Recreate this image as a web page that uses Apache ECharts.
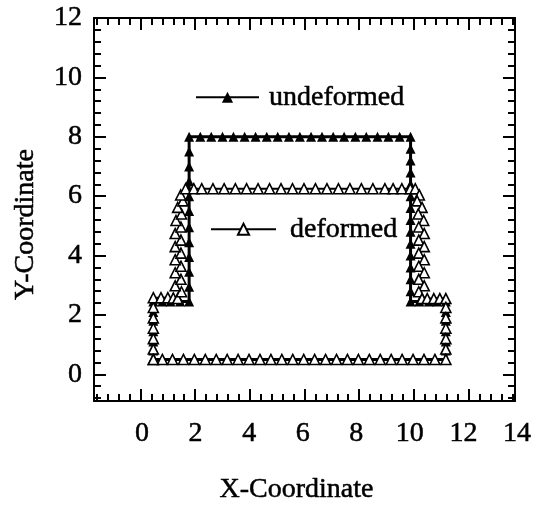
<!DOCTYPE html>
<html>
<head>
<meta charset="utf-8">
<script src="https://cdn.jsdelivr.net/npm/echarts@6/dist/echarts.min.js"></script>
<style>
  html, body { margin: 0; padding: 0; background: #fff; }
  #chart { width: 535px; height: 511px; }
</style>
</head>
<body>
<div id="chart"></div>
<script>
// Boundary nodes of the block before loading (x, y)
const undeformed = [
  [0.47,0.5],[0.47,0.8],[0.47,1.1],[0.47,1.45],[0.47,1.8],[0.47,2.1],[0.47,2.45],
  [0.8,2.45],[1.1,2.45],[1.45,2.45],[1.78,2.45],
  [1.78,2.95],[1.78,3.45],[1.78,3.95],[1.78,4.45],[1.78,4.95],[1.78,5.5],[1.78,6.0],[1.78,6.5],[1.78,7.0],[1.78,7.5],[1.78,8.0],
  [2.19,8.0],[2.59,8.0],[3.0,8.0],[3.4,8.0],[3.81,8.0],[4.21,8.0],[4.62,8.0],[5.02,8.0],[5.43,8.0],[5.83,8.0],
  [6.24,8.0],[6.64,8.0],[7.05,8.0],[7.45,8.0],[7.86,8.0],[8.26,8.0],[8.67,8.0],[9.07,8.0],[9.48,8.0],[9.88,8.0],
  [9.88,7.6],[9.88,7.2],[9.88,6.8],[9.88,6.4],[9.88,6.0],[9.88,5.6],[9.88,5.2],[9.88,4.8],[9.88,4.4],[9.88,4.0],
  [9.88,3.6],[9.88,3.2],[9.88,2.8],[9.88,2.45],
  [10.2,2.45],[10.55,2.45],[10.85,2.45],[11.17,2.45],
  [11.17,2.1],[11.17,1.8],[11.17,1.45],[11.17,1.1],[11.17,0.8],[11.17,0.5],
  [10.77,0.5],[10.37,0.5],[9.97,0.5],[9.57,0.5],[9.17,0.5],[8.77,0.5],[8.37,0.5],[7.97,0.5],[7.57,0.5],
  [7.17,0.5],[6.77,0.5],[6.37,0.5],[5.97,0.5],[5.57,0.5],[5.17,0.5],[4.77,0.5],[4.37,0.5],[3.97,0.5],
  [3.57,0.5],[3.17,0.5],[2.77,0.5],[2.37,0.5],[1.97,0.5],[1.57,0.5],[1.17,0.5],[0.8,0.5],[0.47,0.5]
];

// Boundary nodes of the block after loading (x, y)
const deformed = [
  [0.47,0.5],[0.47,0.85],[0.47,1.2],[0.47,1.55],[0.47,1.9],[0.47,2.25],[0.47,2.58],
  [0.75,2.58],[1.0,2.58],[1.2,2.57],
  [1.36,2.55],[1.5,2.78],[1.27,2.98],[1.48,3.2],[1.27,3.42],[1.48,3.64],[1.27,3.86],[1.48,4.08],[1.27,4.3],
  [1.48,4.52],[1.27,4.74],[1.48,4.96],[1.3,5.18],[1.5,5.4],[1.36,5.62],[1.55,5.84],[1.47,6.04],[1.65,6.25],
  [1.95,6.25],[2.24,6.25],[2.65,6.25],[3.06,6.25],[3.47,6.25],[3.88,6.25],[4.3,6.25],[4.72,6.25],[5.14,6.25],
  [5.56,6.25],[5.98,6.25],[6.4,6.25],[6.82,6.25],[7.24,6.25],[7.66,6.25],[8.08,6.25],[8.5,6.25],[8.94,6.25],
  [9.24,6.25],[9.56,6.25],[9.87,6.25],[10.05,6.25],
  [10.2,6.04],[10.12,5.84],[10.3,5.62],[10.16,5.4],[10.36,5.18],[10.18,4.96],[10.38,4.74],[10.18,4.52],
  [10.38,4.3],[10.18,4.08],[10.38,3.86],[10.18,3.64],[10.38,3.42],[10.18,3.2],[10.38,2.98],[10.18,2.78],[10.3,2.55],
  [10.49,2.55],[10.73,2.55],[10.95,2.55],[11.17,2.55],
  [11.17,2.25],[11.17,1.9],[11.17,1.55],[11.17,1.2],[11.17,0.85],[11.17,0.5],
  [10.77,0.5],[10.37,0.5],[9.97,0.5],[9.57,0.5],[9.17,0.5],[8.77,0.5],[8.37,0.5],[7.97,0.5],[7.57,0.5],
  [7.17,0.5],[6.77,0.5],[6.37,0.5],[5.97,0.5],[5.57,0.5],[5.17,0.5],[4.77,0.5],[4.37,0.5],[3.97,0.5],
  [3.57,0.5],[3.17,0.5],[2.77,0.5],[2.37,0.5],[1.97,0.5],[1.57,0.5],[1.17,0.5],[0.8,0.5],[0.47,0.5]
];

const xTickLabels = [0, 2, 4, 6, 8, 10, 12, 14];
const yTickLabels = [0, 2, 4, 6, 8, 10, 12];
const xMajor = [0, 2, 4, 6, 8, 10, 12];
const yMajor = [0, 2, 4, 6, 8, 10, 12];

const X_MIN = -1.7, X_MAX = 13.7;
const Y_MIN = -0.9, Y_MAX = 12;

// minor tick positions every 0.4, skipping the major (multiple of 2) ones
function minorTicks(lo, hi) {
  const out = [];
  for (let k = Math.ceil(lo / 0.4 - 1e-9); k * 0.4 <= hi + 1e-9; k++) {
    if (k % 5 !== 0) out.push(+(k * 0.4).toFixed(2));
  }
  return out;
}

const FONT = 'Liberation Serif';
const BLACK = '#000';
const textBase = { fontFamily: FONT, fontSize: 28, color: BLACK,
                   textBorderColor: BLACK, textBorderWidth: 0.5 };

function frameAxis(gridIndex, position, min, max, ticks, tickLen, showLine, extra) {
  return Object.assign({
    type: 'value',
    gridIndex: gridIndex,
    position: position,
    min: min,
    max: max,
    axisLine: { show: showLine, onZero: false, lineStyle: { color: BLACK, width: 2 } },
    axisTick: { show: true, inside: true, length: tickLen, customValues: ticks,
                lineStyle: { color: BLACK, width: 2 } },
    axisLabel: { show: false },
    splitLine: { show: false },
    minorTick: { show: false }
  }, extra || {});
}

const xMinor = minorTicks(X_MIN, X_MAX);
const yMinor = minorTicks(Y_MIN, Y_MAX);

const chart = echarts.init(document.getElementById('chart'), null, { renderer: 'canvas' });

chart.setOption({
  animation: false,
  backgroundColor: '#fff',
  grid: [
    { left: 94, right: 20, top: 18, bottom: 110 },
    { left: 142, right: 18, top: 18, bottom: 110 }
  ],
  xAxis: [
    frameAxis(0, 'bottom', X_MIN, X_MAX, xMajor, 12, true, {
      name: 'X-Coordinate',
      nameLocation: 'middle',
      nameGap: 75,
      nameTextStyle: Object.assign({}, textBase, { padding: [0, 16, 0, 0] })
    }),
    frameAxis(0, 'bottom', X_MIN, X_MAX, xMinor, 7, false),
    frameAxis(0, 'top', X_MIN, X_MAX, xMajor, 12, true),
    frameAxis(0, 'top', X_MIN, X_MAX, xMinor, 7, false),
    {
      type: 'value', gridIndex: 1, position: 'bottom',
      min: xTickLabels[0], max: xTickLabels[xTickLabels.length - 1],
      axisLine: { show: false, onZero: false },
      axisTick: { show: false },
      splitLine: { show: false },
      axisLabel: Object.assign({ show: true, customValues: xTickLabels, margin: 19 }, textBase)
    }
  ],
  yAxis: [
    frameAxis(0, 'left', Y_MIN, Y_MAX, yMajor, 12, true, {
      name: 'Y-Coordinate',
      nameLocation: 'middle',
      nameGap: 54,
      nameTextStyle: Object.assign({}, textBase, { padding: [0, 30, 0, 0] }),
      axisLabel: Object.assign({ show: true, customValues: yTickLabels, margin: 12,
                                 padding: [4, 0, 0, 0] }, textBase)
    }),
    frameAxis(0, 'left', Y_MIN, Y_MAX, yMinor, 7, false),
    frameAxis(0, 'right', Y_MIN, Y_MAX, yMajor, 12, true),
    frameAxis(0, 'right', Y_MIN, Y_MAX, yMinor, 7, false),
    { type: 'value', gridIndex: 1, show: false, min: 0, max: 1 }
  ],
  legend: [
    {
      data: ['undeformed'], left: 195, top: 83, padding: 0,
      itemWidth: 63, itemHeight: 14, selectedMode: false,
      textStyle: Object.assign({}, textBase, { padding: [0, 0, 0, 5] })
    },
    {
      data: ['deformed'], left: 210, top: 215, padding: 0,
      itemWidth: 65, itemHeight: 14, selectedMode: false,
      textStyle: Object.assign({}, textBase, { padding: [0, 0, 0, 9] })
    }
  ],
  series: [
    {
      name: 'undeformed', type: 'line', xAxisIndex: 0, yAxisIndex: 0,
      data: undeformed, symbol: 'triangle', symbolSize: 10, showAllSymbol: true,
      lineStyle: { color: BLACK, width: 3 },
      itemStyle: { color: BLACK },
      z: 2
    },
    {
      name: 'deformed', type: 'line', xAxisIndex: 0, yAxisIndex: 0,
      data: deformed, symbol: 'triangle', symbolSize: 10, showAllSymbol: true,
      lineStyle: { color: BLACK, width: 2 },
      itemStyle: { color: '#fff', borderColor: BLACK, borderWidth: 1.6 },
      z: 3
    }
  ]
});
</script>
</body>
</html>
